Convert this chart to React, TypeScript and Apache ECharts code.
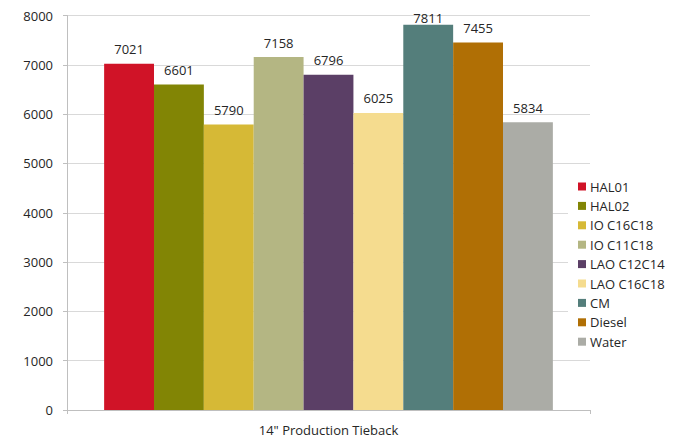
import React, { useEffect, useRef } from "react";
import * as echarts from "echarts";

// Flow values per fluid for the 14" production tieback
const categories = ['14" Production Tieback'];
const seriesNames = [
  "HAL01",
  "HAL02",
  "IO C16C18",
  "IO C11C18",
  "LAO C12C14",
  "LAO C16C18",
  "CM",
  "Diesel",
  "Water",
];
const seriesValues = [7021, 6601, 5790, 7158, 6796, 6025, 7811, 7455, 5834];
const seriesColors = [
  "#D01327",
  "#828505",
  "#D6B936",
  "#B4B683",
  "#5B3F66",
  "#F5DC8F",
  "#547E7B",
  "#B06F05",
  "#ABACA6",
];
const yMin = 0;
const yMax = 8000;
const yInterval = 1000;

const FONT = "'Open Sans', 'Liberation Sans', sans-serif";
const TEXT = "#262626";
const FS = 13;

export default function App() {
  const ref = useRef<HTMLDivElement>(null);

  useEffect(() => {
    if (!ref.current) return;
    const chart = echarts.init(ref.current, undefined, { renderer: "svg" });

    const series = seriesNames.map((name, i) => ({
      name,
      type: "bar" as const,
      barGap: "0%",
      barCategoryGap: "14.2%",
      itemStyle: { color: seriesColors[i] },
      label: {
        show: true,
        position: "top" as const,
        distance: name === "CM" ? 0 : 8,
        color: TEXT,
        fontFamily: FONT,
        fontSize: FS,
      },
      data: [seriesValues[i]],
    }));

    chart.setOption({
      animation: false,
      backgroundColor: "#ffffff",
      textStyle: { fontFamily: FONT },
      grid: { left: 67, right: 103, top: 15.5, bottom: 29, containLabel: false },
      legend: {
        orient: "vertical",
        left: 568,
        top: 174,
        padding: [5, 6, 5, 10],
        backgroundColor: "#ffffff",
        itemWidth: 8,
        itemHeight: 8,
        itemGap: 4.4,
        icon: "rect",
        data: seriesNames,
        textStyle: {
          color: TEXT,
          fontFamily: FONT,
          fontSize: FS,
          lineHeight: 15,
          padding: [0, 0, 0, -1],
        },
      },
      xAxis: {
        type: "category",
        data: categories,
        axisLine: { show: true, lineStyle: { color: "#BFBFBF" } },
        axisTick: { show: true, length: 4, lineStyle: { color: "#BFBFBF" } },
        axisLabel: {
          color: TEXT,
          fontFamily: FONT,
          fontSize: FS,
          margin: 13,
        },
      },
      yAxis: {
        type: "value",
        min: yMin,
        max: yMax,
        interval: yInterval,
        axisLine: { show: true, lineStyle: { color: "#BFBFBF" } },
        axisTick: { show: true, length: 4, lineStyle: { color: "#BFBFBF" } },
        splitLine: { show: true, lineStyle: { color: "#D9D9D9", width: 1 } },
        axisLabel: {
          color: TEXT,
          fontFamily: FONT,
          fontSize: FS,
          margin: 14,
          formatter: (v: number) => String(v),
        },
      },
      series,
    });

    return () => chart.dispose();
  }, []);

  return (
    <div
      ref={ref}
      style={{ position: "fixed", left: 0, top: 0, width: 693, height: 439 }}
    />
  );
}
